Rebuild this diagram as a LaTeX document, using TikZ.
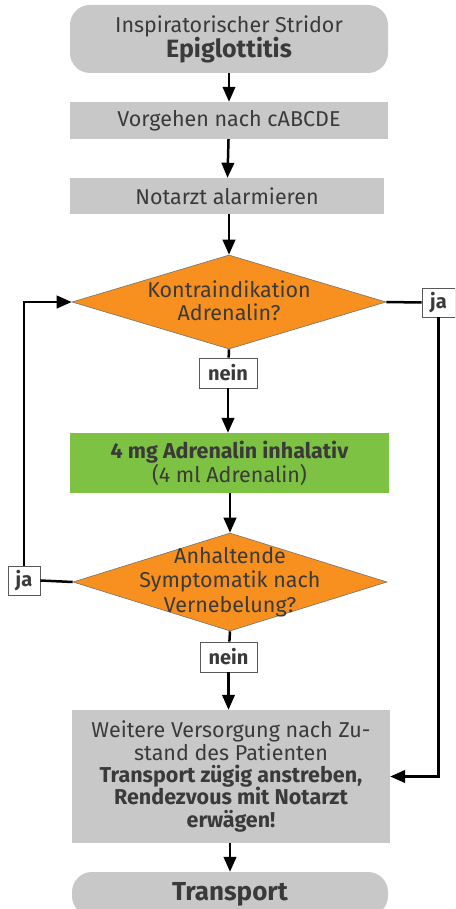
\documentclass[tikz,border=0pt]{standalone}
\usepackage{fontspec}
\setmainfont{Fira Sans}
\usetikzlibrary{shapes.geometric,arrows.meta}
\definecolor{boxgray}{HTML}{C8C8C8}
\definecolor{decorange}{HTML}{F7901E}
\definecolor{actgreen}{HTML}{7DC242}
\definecolor{txtdark}{HTML}{3A3A3A}
\tikzset{
  base/.style={inner sep=0pt, align=center, text=txtdark, font=\fontsize{21.5}{23}\selectfont},
  stepbox/.style={base, fill=boxgray},
  terminal/.style={stepbox, rounded corners=20pt},
  actbox/.style={base, fill=actgreen},
  decision/.style={diamond, fill=decorange, draw=black!55, line width=0.6pt, inner sep=0pt},
  dtext/.style={base},
  answer/.style={base, fill=white, draw=black!65, line width=0.8pt, font=\fontsize{20}{22}\selectfont\bfseries},
  conn/.style={line width=2.5pt, black},
  flow/.style={conn, -{Triangle[length=15pt,width=12.5pt]}},
}
\begin{document}
\begin{tikzpicture}[x=1pt,y=-1pt]
\useasboundingbox (0,0) rectangle (455,909);
\clip (0,0) rectangle (455,909);

\node[terminal, minimum width=318pt, minimum height=68pt] (start) at (229,39)
  {Inspiratorischer Stridor\\[-1pt]{\fontsize{25}{26}\selectfont\bfseries Epiglottitis}};
\node[stepbox, minimum width=318pt, minimum height=37pt] (abc) at (229,120.5) {Vorgehen nach cABCDE};
\node[stepbox, minimum width=314pt, minimum height=36pt] (na) at (227,196) {Notarzt alarmieren};

\node[decision, minimum width=314pt, minimum height=94pt] (d1) at (229,302) {};
\node[dtext] (d1t) at (229,301) {Kontraindikation\\Adrenalin?};

\node[answer, minimum width=58pt, minimum height=30pt] (n1) at (228,373) {nein};
\node[answer, minimum width=33pt, minimum height=29pt] (j1) at (438.5,302.5) {ja};

\node[actbox, minimum width=319pt, minimum height=60pt, font=\fontsize{21.5}{24}\selectfont] (adr) at (229.5,463)
  {\bfseries 4 mg Adrenalin inhalativ\\(4 ml Adrenalin)};

\node[decision, minimum width=314pt, minimum height=98pt] (d2) at (230,582) {};
\node[dtext, font=\fontsize{21.5}{24.5}\selectfont] (d2t) at (230,582) {Anhaltende\\Symptomatik nach\\Vernebelung?};

\node[answer, minimum width=57pt, minimum height=30pt] (n2) at (228.5,657) {nein};
\node[answer, minimum width=32pt, minimum height=29pt] (j2) at (24,580.5) {ja};

\node[stepbox, minimum width=318pt, minimum height=133pt, font=\fontsize{21.5}{22.3}\selectfont] (care) at (231,776.5)
  {Weitere Versorgung nach Zu-\\stand des Patienten\\
   \bfseries Transport zügig anstreben,\\\bfseries Rendezvous mit Notarzt\\\bfseries erwägen!};

\node[terminal, minimum width=316pt, minimum height=44pt] (end) at (230,894)
  {\raisebox{2pt}{\fontsize{26}{27}\selectfont\bfseries Transport}};

% main line
\draw[flow] (start) -- (abc);
\draw[flow] (abc) -- (na);
\draw[flow] (na.south -| d1.north) -- (d1.north);
\draw[conn] (d1.south) -- (n1);
\draw[flow] (n1) -- (adr.north -| n1);
\draw[flow] (adr.south -| d2.north) -- (d2.north);
\draw[conn] (d2.south) -- (n2);
\draw[flow] (n2) -- (care.north -| n2);
\draw[flow] (care.south -| end.north) -- (end.north);

% "ja" branches
\draw[conn] (d1.east) -- (j1.west);
\draw[flow] (j1.south) |- (care.east);
\draw[conn] (d2.west) -- (j2.east);
\draw[flow] (j2.north) |- (d1.west);
\end{tikzpicture}
\end{document}
